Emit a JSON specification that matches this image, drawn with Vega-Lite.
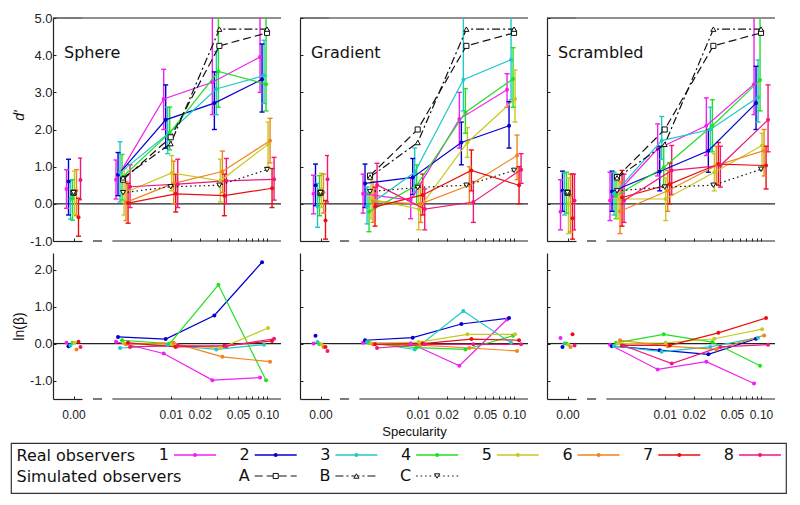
{
"$schema": "https://vega.github.io/schema/vega-lite/v6.json",
"background": "white",
"padding": {"left": 10, "top": 12, "right": 8, "bottom": 5},
"datasets": {
"real": [
{"s":"Sphere","o":1,"sp":0,"d":0.40,"lo":-0.12,"hi":0.92,"b":0.02},
{"s":"Sphere","o":2,"sp":0,"d":0.60,"lo":-0.30,"hi":1.20,"b":-0.07},
{"s":"Sphere","o":3,"sp":0,"d":0.13,"lo":-0.41,"hi":0.62,"b":-0.05},
{"s":"Sphere","o":4,"sp":0,"d":0.15,"lo":-0.44,"hi":0.65,"b":0.02},
{"s":"Sphere","o":5,"sp":0,"d":0.33,"lo":-0.28,"hi":0.88,"b":0.02},
{"s":"Sphere","o":6,"sp":0,"d":0.35,"lo":-0.32,"hi":0.92,"b":-0.16},
{"s":"Sphere","o":7,"sp":0,"d":-0.36,"lo":-0.87,"hi":0.15,"b":0.05},
{"s":"Sphere","o":8,"sp":0,"d":0.64,"lo":0.11,"hi":1.23,"b":-0.09},
{"s":"Sphere","o":1,"sp":0.0032,"d":0.65,"lo":0.13,"hi":1.18,"b":0.05},
{"s":"Sphere","o":2,"sp":0.0032,"d":0.78,"lo":0.22,"hi":1.38,"b":0.18},
{"s":"Sphere","o":3,"sp":0.0032,"d":0.84,"lo":0.05,"hi":1.67,"b":-0.12},
{"s":"Sphere","o":4,"sp":0.0032,"d":0.71,"lo":0.10,"hi":1.33,"b":0.09},
{"s":"Sphere","o":5,"sp":0.0032,"d":0.29,"lo":-0.30,"hi":0.95,"b":0.01},
{"s":"Sphere","o":6,"sp":0.0032,"d":0.04,"lo":-0.45,"hi":0.60,"b":-0.02},
{"s":"Sphere","o":7,"sp":0.0032,"d":0.02,"lo":-0.52,"hi":0.55,"b":0.02},
{"s":"Sphere","o":8,"sp":0.0032,"d":0.46,"lo":-0.10,"hi":1.05,"b":-0.09},
{"s":"Sphere","o":1,"sp":0.01,"d":2.82,"lo":2.00,"hi":3.62,"b":-0.27},
{"s":"Sphere","o":2,"sp":0.01,"d":2.26,"lo":1.50,"hi":3.20,"b":0.12},
{"s":"Sphere","o":3,"sp":0.01,"d":1.88,"lo":1.35,"hi":2.60,"b":-0.04},
{"s":"Sphere","o":4,"sp":0.01,"d":1.91,"lo":1.45,"hi":2.60,"b":0.00},
{"s":"Sphere","o":5,"sp":0.01,"d":0.83,"lo":0.35,"hi":1.30,"b":-0.02},
{"s":"Sphere","o":6,"sp":0.01,"d":0.55,"lo":0.00,"hi":1.15,"b":0.02},
{"s":"Sphere","o":7,"sp":0.01,"d":0.27,"lo":-0.22,"hi":0.80,"b":-0.09},
{"s":"Sphere","o":8,"sp":0.01,"d":0.53,"lo":-0.10,"hi":1.20,"b":-0.06},
{"s":"Sphere","o":1,"sp":0.032,"d":3.27,"lo":2.40,"hi":5.50,"b":-0.99},
{"s":"Sphere","o":2,"sp":0.032,"d":2.71,"lo":2.00,"hi":3.55,"b":0.76},
{"s":"Sphere","o":3,"sp":0.032,"d":3.09,"lo":2.40,"hi":4.10,"b":-0.16},
{"s":"Sphere","o":4,"sp":0.032,"d":3.56,"lo":2.60,"hi":5.50,"b":1.59},
{"s":"Sphere","o":5,"sp":0.032,"d":0.62,"lo":0.05,"hi":1.20,"b":-0.13},
{"s":"Sphere","o":6,"sp":0.032,"d":0.87,"lo":0.30,"hi":1.42,"b":-0.36},
{"s":"Sphere","o":7,"sp":0.032,"d":0.22,"lo":-0.32,"hi":0.80,"b":-0.06},
{"s":"Sphere","o":8,"sp":0.032,"d":0.62,"lo":0.00,"hi":1.22,"b":-0.07},
{"s":"Sphere","o":1,"sp":0.1,"d":3.95,"lo":3.00,"hi":5.50,"b":-0.92},
{"s":"Sphere","o":2,"sp":0.1,"d":3.35,"lo":2.47,"hi":4.30,"b":2.20},
{"s":"Sphere","o":3,"sp":0.1,"d":3.45,"lo":2.70,"hi":4.40,"b":-0.03},
{"s":"Sphere","o":4,"sp":0.1,"d":3.22,"lo":2.50,"hi":5.50,"b":-0.99},
{"s":"Sphere","o":5,"sp":0.1,"d":1.60,"lo":1.00,"hi":2.20,"b":0.42},
{"s":"Sphere","o":6,"sp":0.1,"d":1.70,"lo":1.10,"hi":2.30,"b":-0.49},
{"s":"Sphere","o":7,"sp":0.1,"d":0.42,"lo":-0.10,"hi":0.95,"b":0.07},
{"s":"Sphere","o":8,"sp":0.1,"d":0.66,"lo":0.10,"hi":1.25,"b":0.13},
{"s":"Gradient","o":1,"sp":0,"d":0.27,"lo":-0.27,"hi":0.77,"b":0.00},
{"s":"Gradient","o":2,"sp":0,"d":0.50,"lo":-0.05,"hi":1.07,"b":0.21},
{"s":"Gradient","o":3,"sp":0,"d":-0.07,"lo":-0.63,"hi":0.55,"b":0.04},
{"s":"Gradient","o":4,"sp":0,"d":0.22,"lo":-0.32,"hi":0.76,"b":-0.02},
{"s":"Gradient","o":5,"sp":0,"d":0.40,"lo":-0.10,"hi":0.82,"b":-0.02},
{"s":"Gradient","o":6,"sp":0,"d":0.31,"lo":-0.25,"hi":0.80,"b":-0.09},
{"s":"Gradient","o":7,"sp":0,"d":-0.45,"lo":-0.95,"hi":0.09,"b":-0.09},
{"s":"Gradient","o":8,"sp":0,"d":0.66,"lo":0.05,"hi":1.30,"b":-0.20},
{"s":"Gradient","o":1,"sp":0.0032,"d":0.27,"lo":-0.25,"hi":0.80,"b":0.02},
{"s":"Gradient","o":2,"sp":0.0032,"d":0.55,"lo":-0.10,"hi":1.07,"b":0.09},
{"s":"Gradient","o":3,"sp":0.0032,"d":-0.07,"lo":-0.54,"hi":0.45,"b":0.04},
{"s":"Gradient","o":4,"sp":0.0032,"d":-0.21,"lo":-0.75,"hi":0.30,"b":0.02},
{"s":"Gradient","o":5,"sp":0.0032,"d":0.13,"lo":-0.40,"hi":0.65,"b":0.00},
{"s":"Gradient","o":6,"sp":0.0032,"d":0.06,"lo":-0.50,"hi":0.60,"b":-0.02},
{"s":"Gradient","o":7,"sp":0.0032,"d":-0.08,"lo":-0.60,"hi":0.45,"b":-0.02},
{"s":"Gradient","o":8,"sp":0.0032,"d":0.51,"lo":-0.05,"hi":1.09,"b":-0.12},
{"s":"Gradient","o":1,"sp":0.01,"d":0.10,"lo":-0.40,"hi":0.70,"b":0.00},
{"s":"Gradient","o":2,"sp":0.01,"d":0.71,"lo":0.25,"hi":1.22,"b":0.16},
{"s":"Gradient","o":3,"sp":0.01,"d":0.85,"lo":0.30,"hi":1.50,"b":-0.16},
{"s":"Gradient","o":4,"sp":0.01,"d":0.50,"lo":0.00,"hi":1.05,"b":-0.11},
{"s":"Gradient","o":5,"sp":0.01,"d":-0.14,"lo":-0.70,"hi":0.40,"b":0.04},
{"s":"Gradient","o":6,"sp":0.01,"d":0.00,"lo":-0.50,"hi":0.55,"b":-0.04},
{"s":"Gradient","o":7,"sp":0.01,"d":0.24,"lo":-0.30,"hi":0.80,"b":0.00},
{"s":"Gradient","o":8,"sp":0.01,"d":-0.14,"lo":-0.70,"hi":0.40,"b":-0.02},
{"s":"Gradient","o":1,"sp":0.032,"d":2.28,"lo":1.50,"hi":3.00,"b":-0.60},
{"s":"Gradient","o":2,"sp":0.032,"d":1.65,"lo":1.05,"hi":2.20,"b":0.53},
{"s":"Gradient","o":3,"sp":0.032,"d":3.34,"lo":2.50,"hi":5.50,"b":0.88},
{"s":"Gradient","o":4,"sp":0.032,"d":2.46,"lo":1.90,"hi":3.10,"b":-0.16},
{"s":"Gradient","o":5,"sp":0.032,"d":1.65,"lo":1.25,"hi":2.05,"b":0.25},
{"s":"Gradient","o":6,"sp":0.032,"d":0.50,"lo":0.00,"hi":1.00,"b":-0.12},
{"s":"Gradient","o":7,"sp":0.032,"d":0.90,"lo":0.35,"hi":1.45,"b":0.12},
{"s":"Gradient","o":8,"sp":0.032,"d":0.05,"lo":-0.50,"hi":0.60,"b":-0.02},
{"s":"Gradient","o":1,"sp":0.1,"d":3.07,"lo":2.60,"hi":3.50,"b":0.65},
{"s":"Gradient","o":2,"sp":0.1,"d":2.10,"lo":1.50,"hi":2.75,"b":0.69},
{"s":"Gradient","o":3,"sp":0.1,"d":3.88,"lo":2.80,"hi":5.50,"b":0.02},
{"s":"Gradient","o":4,"sp":0.1,"d":3.36,"lo":2.60,"hi":4.20,"b":0.21},
{"s":"Gradient","o":5,"sp":0.1,"d":2.82,"lo":2.20,"hi":3.60,"b":0.25},
{"s":"Gradient","o":6,"sp":0.1,"d":1.30,"lo":0.65,"hi":1.85,"b":-0.20},
{"s":"Gradient","o":7,"sp":0.1,"d":0.50,"lo":0.00,"hi":1.00,"b":0.09},
{"s":"Gradient","o":8,"sp":0.1,"d":0.92,"lo":0.55,"hi":1.35,"b":-0.02},
{"s":"Scrambled","o":1,"sp":0,"d":-0.21,"lo":-0.70,"hi":0.65,"b":0.15},
{"s":"Scrambled","o":2,"sp":0,"d":0.35,"lo":-0.20,"hi":0.88,"b":-0.09},
{"s":"Scrambled","o":3,"sp":0,"d":0.31,"lo":-0.30,"hi":0.83,"b":0.00},
{"s":"Scrambled","o":4,"sp":0,"d":0.35,"lo":-0.25,"hi":0.85,"b":0.00},
{"s":"Scrambled","o":5,"sp":0,"d":0.00,"lo":-0.80,"hi":0.70,"b":-0.03},
{"s":"Scrambled","o":6,"sp":0,"d":0.22,"lo":-0.76,"hi":0.80,"b":-0.09},
{"s":"Scrambled","o":7,"sp":0,"d":-0.39,"lo":-0.95,"hi":0.80,"b":0.25},
{"s":"Scrambled","o":8,"sp":0,"d":0.09,"lo":-0.70,"hi":0.80,"b":-0.05},
{"s":"Scrambled","o":1,"sp":0.0032,"d":0.09,"lo":-0.45,"hi":0.85,"b":-0.03},
{"s":"Scrambled","o":2,"sp":0.0032,"d":0.33,"lo":-0.20,"hi":0.88,"b":-0.07},
{"s":"Scrambled","o":3,"sp":0.0032,"d":0.27,"lo":-0.30,"hi":0.85,"b":-0.07},
{"s":"Scrambled","o":4,"sp":0.0032,"d":0.22,"lo":-0.40,"hi":0.80,"b":0.02},
{"s":"Scrambled","o":5,"sp":0.0032,"d":0.13,"lo":-0.40,"hi":0.75,"b":0.00},
{"s":"Scrambled","o":6,"sp":0.0032,"d":-0.20,"lo":-0.80,"hi":0.60,"b":0.09},
{"s":"Scrambled","o":7,"sp":0.0032,"d":0.17,"lo":-0.60,"hi":0.90,"b":-0.05},
{"s":"Scrambled","o":8,"sp":0.0032,"d":0.09,"lo":-0.50,"hi":0.80,"b":-0.06},
{"s":"Scrambled","o":1,"sp":0.01,"d":1.48,"lo":0.75,"hi":2.15,"b":-0.70},
{"s":"Scrambled","o":2,"sp":0.01,"d":0.87,"lo":0.35,"hi":1.55,"b":-0.18},
{"s":"Scrambled","o":3,"sp":0.01,"d":1.70,"lo":1.20,"hi":2.35,"b":-0.22},
{"s":"Scrambled","o":4,"sp":0.01,"d":0.98,"lo":0.45,"hi":1.55,"b":0.25},
{"s":"Scrambled","o":5,"sp":0.01,"d":0.13,"lo":-0.45,"hi":0.70,"b":0.02},
{"s":"Scrambled","o":6,"sp":0.01,"d":0.35,"lo":-0.20,"hi":0.90,"b":-0.07},
{"s":"Scrambled","o":7,"sp":0.01,"d":0.53,"lo":0.00,"hi":1.10,"b":-0.05},
{"s":"Scrambled","o":8,"sp":0.01,"d":0.90,"lo":0.25,"hi":1.57,"b":-0.54},
{"s":"Scrambled","o":1,"sp":0.032,"d":2.10,"lo":1.30,"hi":2.85,"b":-0.49},
{"s":"Scrambled","o":2,"sp":0.032,"d":1.43,"lo":0.85,"hi":2.00,"b":-0.29},
{"s":"Scrambled","o":3,"sp":0.032,"d":2.00,"lo":1.45,"hi":2.60,"b":-0.09},
{"s":"Scrambled","o":4,"sp":0.032,"d":2.10,"lo":1.40,"hi":2.80,"b":0.04},
{"s":"Scrambled","o":5,"sp":0.032,"d":0.85,"lo":0.35,"hi":1.35,"b":0.13},
{"s":"Scrambled","o":6,"sp":0.032,"d":1.03,"lo":0.55,"hi":1.55,"b":-0.16},
{"s":"Scrambled","o":7,"sp":0.032,"d":1.07,"lo":0.50,"hi":1.65,"b":0.29},
{"s":"Scrambled","o":8,"sp":0.032,"d":1.03,"lo":0.45,"hi":1.55,"b":-0.09},
{"s":"Scrambled","o":1,"sp":0.1,"d":3.22,"lo":2.40,"hi":5.50,"b":-1.08},
{"s":"Scrambled","o":2,"sp":0.1,"d":2.71,"lo":2.00,"hi":3.70,"b":0.13},
{"s":"Scrambled","o":3,"sp":0.1,"d":2.87,"lo":2.20,"hi":3.87,"b":0.16},
{"s":"Scrambled","o":4,"sp":0.1,"d":3.33,"lo":2.50,"hi":5.50,"b":-0.60},
{"s":"Scrambled","o":5,"sp":0.1,"d":1.57,"lo":0.90,"hi":1.90,"b":0.39},
{"s":"Scrambled","o":6,"sp":0.1,"d":1.43,"lo":0.75,"hi":2.00,"b":0.22},
{"s":"Scrambled","o":7,"sp":0.1,"d":1.03,"lo":0.40,"hi":1.55,"b":0.69},
{"s":"Scrambled","o":8,"sp":0.1,"d":2.26,"lo":1.40,"hi":3.20,"b":-0.03}
],
"sim": [
{"s":"Sphere","sim":"A","sp":0,"d":0.3},{"s":"Sphere","sim":"A","sp":0.0032,"d":0.65},{"s":"Sphere","sim":"A","sp":0.01,"d":1.79},{"s":"Sphere","sim":"A","sp":0.032,"d":4.25},{"s":"Sphere","sim":"A","sp":0.1,"d":4.6},
{"s":"Sphere","sim":"B","sp":0,"d":0.3},{"s":"Sphere","sim":"B","sp":0.0032,"d":0.70},{"s":"Sphere","sim":"B","sp":0.01,"d":1.62},{"s":"Sphere","sim":"B","sp":0.032,"d":4.7},{"s":"Sphere","sim":"B","sp":0.1,"d":4.7},
{"s":"Sphere","sim":"C","sp":0,"d":0.3},{"s":"Sphere","sim":"C","sp":0.0032,"d":0.30},{"s":"Sphere","sim":"C","sp":0.01,"d":0.46},{"s":"Sphere","sim":"C","sp":0.032,"d":0.50},{"s":"Sphere","sim":"C","sp":0.1,"d":0.92},
{"s":"Gradient","sim":"A","sp":0,"d":0.3},{"s":"Gradient","sim":"A","sp":0.0032,"d":0.76},{"s":"Gradient","sim":"A","sp":0.01,"d":2.0},{"s":"Gradient","sim":"A","sp":0.032,"d":4.25},{"s":"Gradient","sim":"A","sp":0.1,"d":4.6},
{"s":"Gradient","sim":"B","sp":0,"d":0.3},{"s":"Gradient","sim":"B","sp":0.0032,"d":0.72},{"s":"Gradient","sim":"B","sp":0.01,"d":1.65},{"s":"Gradient","sim":"B","sp":0.032,"d":4.7},{"s":"Gradient","sim":"B","sp":0.1,"d":4.7},
{"s":"Gradient","sim":"C","sp":0,"d":0.3},{"s":"Gradient","sim":"C","sp":0.0032,"d":0.33},{"s":"Gradient","sim":"C","sp":0.01,"d":0.44},{"s":"Gradient","sim":"C","sp":0.032,"d":0.50},{"s":"Gradient","sim":"C","sp":0.1,"d":0.90},
{"s":"Scrambled","sim":"A","sp":0,"d":0.3},{"s":"Scrambled","sim":"A","sp":0.0032,"d":0.72},{"s":"Scrambled","sim":"A","sp":0.01,"d":2.0},{"s":"Scrambled","sim":"A","sp":0.032,"d":4.25},{"s":"Scrambled","sim":"A","sp":0.1,"d":4.6},
{"s":"Scrambled","sim":"B","sp":0,"d":0.3},{"s":"Scrambled","sim":"B","sp":0.0032,"d":0.70},{"s":"Scrambled","sim":"B","sp":0.01,"d":1.6},{"s":"Scrambled","sim":"B","sp":0.032,"d":4.7},{"s":"Scrambled","sim":"B","sp":0.1,"d":4.7},
{"s":"Scrambled","sim":"C","sp":0,"d":0.3},{"s":"Scrambled","sim":"C","sp":0.0032,"d":0.35},{"s":"Scrambled","sim":"C","sp":0.01,"d":0.45},{"s":"Scrambled","sim":"C","sp":0.032,"d":0.50},{"s":"Scrambled","sim":"C","sp":0.1,"d":0.93}
],
"leg": [
{"k":"1","r":"Real observers","o":1,"t":"1"},
{"k":"2","r":"Real observers","o":2,"t":"2"},
{"k":"3","r":"Real observers","o":3,"t":"3"},
{"k":"4","r":"Real observers","o":4,"t":"4"},
{"k":"5","r":"Real observers","o":5,"t":"5"},
{"k":"6","r":"Real observers","o":6,"t":"6"},
{"k":"7","r":"Real observers","o":7,"t":"7"},
{"k":"8","r":"Real observers","o":8,"t":"8"},
{"k":"2","r":"Simulated observers","sim":"A","t":"A"},
{"k":"3","r":"Simulated observers","sim":"B","t":"B"},
{"k":"4","r":"Simulated observers","sim":"C","t":"C"}
]
},
"vconcat": [
{"hconcat": [
{"width":1,"height":1,"data":{"values":[{}]},"mark":{"type":"point","opacity":0,"size":0},"encoding":{}},
{"vconcat": [
 {"hconcat": [
  {"hconcat": [
   {"width":29,"height":223,"layer":[
    {"data":{"values":[{}]},"mark":{"type":"rule","color":"#222","strokeWidth":1.2},"encoding":{"y":{"datum":0,"type":"quantitative","scale":{"domain":[-1,5],"nice":false,"zero":false},"axis":{"values":[-1,0,1,2,3,4,5],"labelOverlap":false,"labelExpr":"datum.value < 0 ? '-' + format(-datum.value, '.1f') : format(datum.value, '.1f')","title":"d'","titleFontStyle":"italic","titleFontSize":14,"titleY":97,"titlePadding":3}}}},
    {"data":{"values":[{}]},"mark":{"type":"rule","color":"#222","strokeWidth":1.2},"encoding":{"y":{"datum":5,"type":"quantitative","axis":{"values":[-1,0,1,2,3,4,5],"labelOverlap":false,"labelExpr":"datum.value < 0 ? '-' + format(-datum.value, '.1f') : format(datum.value, '.1f')","title":"d'","titleFontStyle":"italic","titleFontSize":14,"titleY":97,"titlePadding":3}}}},
    {"data":{"name":"real"},"transform":[{"filter":"datum.s=='Sphere' && datum.sp==0"},{"calculate":"datum.o-4.5","as":"z"}],
     "encoding":{"x":{"field":"z","type":"quantitative","scale":{"domain":[-10.25,4.25],"nice":false,"zero":false},"axis":{"values":[0],"labels":false,"title":null}},"color":{"field":"o","type":"nominal","scale":{"domain":[1,2,3,4,5,6,7,8],"range":["#f020f0","#0000d0","#20c8c8","#22e022","#c8c820","#f0841e","#e81010","#f0187c"]},"legend":null}},
     "layer":[
      {"mark":{"type":"rule","clip":true,"strokeWidth":1.4},"encoding":{"y":{"field":"lo","type":"quantitative","axis":{"values":[-1,0,1,2,3,4,5],"labelOverlap":false,"labelExpr":"datum.value < 0 ? '-' + format(-datum.value, '.1f') : format(datum.value, '.1f')","title":"d'","titleFontStyle":"italic","titleFontSize":14,"titleY":97,"titlePadding":3}},"y2":{"field":"hi"}}},
      {"mark":{"type":"tick","orient":"horizontal","size":5,"thickness":1.4,"clip":true,"opacity":1},"encoding":{"y":{"field":"lo","type":"quantitative","axis":{"values":[-1,0,1,2,3,4,5],"labelOverlap":false,"labelExpr":"datum.value < 0 ? '-' + format(-datum.value, '.1f') : format(datum.value, '.1f')","title":"d'","titleFontStyle":"italic","titleFontSize":14,"titleY":97,"titlePadding":3}}}},
      {"mark":{"type":"tick","orient":"horizontal","size":5,"thickness":1.4,"clip":true,"opacity":1},"encoding":{"y":{"field":"hi","type":"quantitative","axis":{"values":[-1,0,1,2,3,4,5],"labelOverlap":false,"labelExpr":"datum.value < 0 ? '-' + format(-datum.value, '.1f') : format(datum.value, '.1f')","title":"d'","titleFontStyle":"italic","titleFontSize":14,"titleY":97,"titlePadding":3}}}},
      {"mark":{"type":"point","filled":true,"size":16,"opacity":1},"encoding":{"y":{"field":"d","type":"quantitative","axis":{"values":[-1,0,1,2,3,4,5],"labelOverlap":false,"labelExpr":"datum.value < 0 ? '-' + format(-datum.value, '.1f') : format(datum.value, '.1f')","title":"d'","titleFontStyle":"italic","titleFontSize":14,"titleY":97,"titlePadding":3}}}}
     ]},
    {"data":{"name":"sim"},"transform":[{"filter":"datum.s=='Sphere' && datum.sp==0"}],"mark":{"type":"point","filled":false,"fill":"white","color":"#111","size":26,"opacity":1,"strokeWidth":1},"encoding":{"x":{"datum":0,"type":"quantitative"},"y":{"field":"d","type":"quantitative","axis":{"values":[-1,0,1,2,3,4,5],"labelOverlap":false,"labelExpr":"datum.value < 0 ? '-' + format(-datum.value, '.1f') : format(datum.value, '.1f')","title":"d'","titleFontStyle":"italic","titleFontSize":14,"titleY":97,"titlePadding":3}},"shape":{"field":"sim","type":"nominal","scale":{"domain":["A","B","C"],"range":["square","triangle-up","triangle-down"]},"legend":null}}},
    {"data":{"values":[{}]},"mark":{"type":"text","text":"Sphere","align":"left","baseline":"middle","font":"DejaVu Sans","fontSize":16,"color":"#111"},"encoding":{"x":{"datum":-4.75,"type":"quantitative"},"y":{"datum":4.07,"type":"quantitative","axis":{"values":[-1,0,1,2,3,4,5],"labelOverlap":false,"labelExpr":"datum.value < 0 ? '-' + format(-datum.value, '.1f') : format(datum.value, '.1f')","title":"d'","titleFontStyle":"italic","titleFontSize":14,"titleY":97,"titlePadding":3}}}}
   ]},
   {"width":199,"height":223,"layer":[
    {"data":{"values":[{}]},"mark":{"type":"rule","color":"#222","strokeWidth":1.2},"encoding":{"y":{"datum":0,"type":"quantitative","scale":{"domain":[-1,5],"nice":false,"zero":false},"axis":null}}},
    {"data":{"values":[{}]},"mark":{"type":"rule","color":"#222","strokeWidth":1.2},"encoding":{"y":{"datum":5,"type":"quantitative","axis":null}}},
    {"data":{"values":[{}]},"mark":{"type":"rule","color":"#222","strokeWidth":1.2},"encoding":{"x":{"datum":0.00248,"type":"quantitative"},"x2":{"datum":0.1396},"y":{"datum":-1,"type":"quantitative","axis":null}}},
    {"data":{"values":[{}]},"mark":{"type":"rule","color":"#222","strokeWidth":1.2},"encoding":{"x":{"datum":0.00156,"type":"quantitative"},"x2":{"datum":0.00194},"y":{"datum":-1,"type":"quantitative","axis":null}}},
    {"data":{"name":"real"},"transform":[{"filter":"datum.s=='Sphere' && datum.sp>0"},{"calculate":"datum.sp*pow(10,(datum.o-4.5)*0.0208)","as":"xj"}],
     "encoding":{"x":{"field":"xj","type":"quantitative","scale":{"type":"log","domain":[0.0012,0.1396],"nice":false},"axis":{"values":[0.01,0.02,0.03,0.04,0.05,0.06,0.07,0.08,0.09,0.1],"labels":false,"domain":false,"title":null}},"color":{"field":"o","type":"nominal","legend":null}},
     "layer":[
      {"mark":{"type":"rule","clip":true,"strokeWidth":1.4},"encoding":{"y":{"field":"lo","type":"quantitative","axis":null},"y2":{"field":"hi"}}},
      {"mark":{"type":"tick","orient":"horizontal","size":5,"thickness":1.4,"clip":true,"opacity":1},"encoding":{"y":{"field":"lo","type":"quantitative","axis":null}}},
      {"mark":{"type":"tick","orient":"horizontal","size":5,"thickness":1.4,"clip":true,"opacity":1},"encoding":{"y":{"field":"hi","type":"quantitative","axis":null}}},
      {"mark":{"type":"line","strokeWidth":1.2},"encoding":{"y":{"field":"d","type":"quantitative","axis":null}}},
      {"mark":{"type":"point","filled":true,"size":16,"opacity":1},"encoding":{"y":{"field":"d","type":"quantitative","axis":null}}}
     ]},
    {"data":{"name":"sim"},"transform":[{"filter":"datum.s=='Sphere' && datum.sp>0"}],
     "encoding":{"x":{"field":"sp","type":"quantitative"},"y":{"field":"d","type":"quantitative","axis":null}},
     "layer":[
      {"mark":{"type":"line","color":"#111","strokeWidth":1.2},"encoding":{"strokeDash":{"field":"sim","type":"nominal","scale":{"domain":["A","B","C"],"range":[[8,4],[8,3,2,3],[1.5,3]]},"legend":null}}},
      {"mark":{"type":"point","filled":false,"fill":"white","color":"#111","size":26,"opacity":1,"strokeWidth":1},"encoding":{"shape":{"field":"sim","type":"nominal","legend":null}}}
     ]}
   ]}
  ],"spacing":0,"bounds":"flush","resolve":{"scale":{"x":"independent","y":"independent"}}},
  {"hconcat": [
   {"width":29,"height":223,"layer":[
    {"data":{"values":[{}]},"mark":{"type":"rule","color":"#222","strokeWidth":1.2},"encoding":{"y":{"datum":0,"type":"quantitative","scale":{"domain":[-1,5],"nice":false,"zero":false},"axis":{"values":[-1,0,1,2,3,4,5],"labels":false,"title":null}}}},
    {"data":{"values":[{}]},"mark":{"type":"rule","color":"#222","strokeWidth":1.2},"encoding":{"y":{"datum":5,"type":"quantitative","axis":{"values":[-1,0,1,2,3,4,5],"labels":false,"title":null}}}},
    {"data":{"name":"real"},"transform":[{"filter":"datum.s=='Gradient' && datum.sp==0"},{"calculate":"datum.o-4.5","as":"z"}],
     "encoding":{"x":{"field":"z","type":"quantitative","scale":{"domain":[-10.25,4.25],"nice":false,"zero":false},"axis":{"values":[0],"labels":false,"title":null}},"color":{"field":"o","type":"nominal","legend":null}},
     "layer":[
      {"mark":{"type":"rule","clip":true,"strokeWidth":1.4},"encoding":{"y":{"field":"lo","type":"quantitative","axis":{"values":[-1,0,1,2,3,4,5],"labels":false,"title":null}},"y2":{"field":"hi"}}},
      {"mark":{"type":"tick","orient":"horizontal","size":5,"thickness":1.4,"clip":true,"opacity":1},"encoding":{"y":{"field":"lo","type":"quantitative","axis":{"values":[-1,0,1,2,3,4,5],"labels":false,"title":null}}}},
      {"mark":{"type":"tick","orient":"horizontal","size":5,"thickness":1.4,"clip":true,"opacity":1},"encoding":{"y":{"field":"hi","type":"quantitative","axis":{"values":[-1,0,1,2,3,4,5],"labels":false,"title":null}}}},
      {"mark":{"type":"point","filled":true,"size":16,"opacity":1},"encoding":{"y":{"field":"d","type":"quantitative","axis":{"values":[-1,0,1,2,3,4,5],"labels":false,"title":null}}}}
     ]},
    {"data":{"name":"sim"},"transform":[{"filter":"datum.s=='Gradient' && datum.sp==0"}],"mark":{"type":"point","filled":false,"fill":"white","color":"#111","size":26,"opacity":1,"strokeWidth":1},"encoding":{"x":{"datum":0,"type":"quantitative"},"y":{"field":"d","type":"quantitative","axis":{"values":[-1,0,1,2,3,4,5],"labels":false,"title":null}},"shape":{"field":"sim","type":"nominal","legend":null}}},
    {"data":{"values":[{}]},"mark":{"type":"text","text":"Gradient","align":"left","baseline":"middle","font":"DejaVu Sans","fontSize":16,"color":"#111"},"encoding":{"x":{"datum":-4.75,"type":"quantitative"},"y":{"datum":4.07,"type":"quantitative","axis":{"values":[-1,0,1,2,3,4,5],"labels":false,"title":null}}}}
   ]},
   {"width":199,"height":223,"layer":[
    {"data":{"values":[{}]},"mark":{"type":"rule","color":"#222","strokeWidth":1.2},"encoding":{"y":{"datum":0,"type":"quantitative","scale":{"domain":[-1,5],"nice":false,"zero":false},"axis":null}}},
    {"data":{"values":[{}]},"mark":{"type":"rule","color":"#222","strokeWidth":1.2},"encoding":{"y":{"datum":5,"type":"quantitative","axis":null}}},
    {"data":{"values":[{}]},"mark":{"type":"rule","color":"#222","strokeWidth":1.2},"encoding":{"x":{"datum":0.00248,"type":"quantitative"},"x2":{"datum":0.1396},"y":{"datum":-1,"type":"quantitative","axis":null}}},
    {"data":{"values":[{}]},"mark":{"type":"rule","color":"#222","strokeWidth":1.2},"encoding":{"x":{"datum":0.00156,"type":"quantitative"},"x2":{"datum":0.00194},"y":{"datum":-1,"type":"quantitative","axis":null}}},
    {"data":{"name":"real"},"transform":[{"filter":"datum.s=='Gradient' && datum.sp>0"},{"calculate":"datum.sp*pow(10,(datum.o-4.5)*0.0208)","as":"xj"}],
     "encoding":{"x":{"field":"xj","type":"quantitative","scale":{"type":"log","domain":[0.0012,0.1396],"nice":false},"axis":{"values":[0.01,0.02,0.03,0.04,0.05,0.06,0.07,0.08,0.09,0.1],"labels":false,"domain":false,"title":null}},"color":{"field":"o","type":"nominal","legend":null}},
     "layer":[
      {"mark":{"type":"rule","clip":true,"strokeWidth":1.4},"encoding":{"y":{"field":"lo","type":"quantitative","axis":null},"y2":{"field":"hi"}}},
      {"mark":{"type":"tick","orient":"horizontal","size":5,"thickness":1.4,"clip":true,"opacity":1},"encoding":{"y":{"field":"lo","type":"quantitative","axis":null}}},
      {"mark":{"type":"tick","orient":"horizontal","size":5,"thickness":1.4,"clip":true,"opacity":1},"encoding":{"y":{"field":"hi","type":"quantitative","axis":null}}},
      {"mark":{"type":"line","strokeWidth":1.2},"encoding":{"y":{"field":"d","type":"quantitative","axis":null}}},
      {"mark":{"type":"point","filled":true,"size":16,"opacity":1},"encoding":{"y":{"field":"d","type":"quantitative","axis":null}}}
     ]},
    {"data":{"name":"sim"},"transform":[{"filter":"datum.s=='Gradient' && datum.sp>0"}],
     "encoding":{"x":{"field":"sp","type":"quantitative"},"y":{"field":"d","type":"quantitative","axis":null}},
     "layer":[
      {"mark":{"type":"line","color":"#111","strokeWidth":1.2},"encoding":{"strokeDash":{"field":"sim","type":"nominal","legend":null}}},
      {"mark":{"type":"point","filled":false,"fill":"white","color":"#111","size":26,"opacity":1,"strokeWidth":1},"encoding":{"shape":{"field":"sim","type":"nominal","legend":null}}}
     ]}
   ]}
  ],"spacing":0,"bounds":"flush","resolve":{"scale":{"x":"independent","y":"independent"}}},
  {"hconcat": [
   {"width":29,"height":223,"layer":[
    {"data":{"values":[{}]},"mark":{"type":"rule","color":"#222","strokeWidth":1.2},"encoding":{"y":{"datum":0,"type":"quantitative","scale":{"domain":[-1,5],"nice":false,"zero":false},"axis":{"values":[-1,0,1,2,3,4,5],"labels":false,"title":null}}}},
    {"data":{"values":[{}]},"mark":{"type":"rule","color":"#222","strokeWidth":1.2},"encoding":{"y":{"datum":5,"type":"quantitative","axis":{"values":[-1,0,1,2,3,4,5],"labels":false,"title":null}}}},
    {"data":{"name":"real"},"transform":[{"filter":"datum.s=='Scrambled' && datum.sp==0"},{"calculate":"datum.o-4.5","as":"z"}],
     "encoding":{"x":{"field":"z","type":"quantitative","scale":{"domain":[-10.25,4.25],"nice":false,"zero":false},"axis":{"values":[0],"labels":false,"title":null}},"color":{"field":"o","type":"nominal","legend":null}},
     "layer":[
      {"mark":{"type":"rule","clip":true,"strokeWidth":1.4},"encoding":{"y":{"field":"lo","type":"quantitative","axis":{"values":[-1,0,1,2,3,4,5],"labels":false,"title":null}},"y2":{"field":"hi"}}},
      {"mark":{"type":"tick","orient":"horizontal","size":5,"thickness":1.4,"clip":true,"opacity":1},"encoding":{"y":{"field":"lo","type":"quantitative","axis":{"values":[-1,0,1,2,3,4,5],"labels":false,"title":null}}}},
      {"mark":{"type":"tick","orient":"horizontal","size":5,"thickness":1.4,"clip":true,"opacity":1},"encoding":{"y":{"field":"hi","type":"quantitative","axis":{"values":[-1,0,1,2,3,4,5],"labels":false,"title":null}}}},
      {"mark":{"type":"point","filled":true,"size":16,"opacity":1},"encoding":{"y":{"field":"d","type":"quantitative","axis":{"values":[-1,0,1,2,3,4,5],"labels":false,"title":null}}}}
     ]},
    {"data":{"name":"sim"},"transform":[{"filter":"datum.s=='Scrambled' && datum.sp==0"}],"mark":{"type":"point","filled":false,"fill":"white","color":"#111","size":26,"opacity":1,"strokeWidth":1},"encoding":{"x":{"datum":0,"type":"quantitative"},"y":{"field":"d","type":"quantitative","axis":{"values":[-1,0,1,2,3,4,5],"labels":false,"title":null}},"shape":{"field":"sim","type":"nominal","legend":null}}},
    {"data":{"values":[{}]},"mark":{"type":"text","text":"Scrambled","align":"left","baseline":"middle","font":"DejaVu Sans","fontSize":16,"color":"#111"},"encoding":{"x":{"datum":-4.75,"type":"quantitative"},"y":{"datum":4.07,"type":"quantitative","axis":{"values":[-1,0,1,2,3,4,5],"labels":false,"title":null}}}}
   ]},
   {"width":199,"height":223,"layer":[
    {"data":{"values":[{}]},"mark":{"type":"rule","color":"#222","strokeWidth":1.2},"encoding":{"y":{"datum":0,"type":"quantitative","scale":{"domain":[-1,5],"nice":false,"zero":false},"axis":null}}},
    {"data":{"values":[{}]},"mark":{"type":"rule","color":"#222","strokeWidth":1.2},"encoding":{"y":{"datum":5,"type":"quantitative","axis":null}}},
    {"data":{"values":[{}]},"mark":{"type":"rule","color":"#222","strokeWidth":1.2},"encoding":{"x":{"datum":0.00248,"type":"quantitative"},"x2":{"datum":0.1396},"y":{"datum":-1,"type":"quantitative","axis":null}}},
    {"data":{"values":[{}]},"mark":{"type":"rule","color":"#222","strokeWidth":1.2},"encoding":{"x":{"datum":0.00156,"type":"quantitative"},"x2":{"datum":0.00194},"y":{"datum":-1,"type":"quantitative","axis":null}}},
    {"data":{"name":"real"},"transform":[{"filter":"datum.s=='Scrambled' && datum.sp>0"},{"calculate":"datum.sp*pow(10,(datum.o-4.5)*0.0208)","as":"xj"}],
     "encoding":{"x":{"field":"xj","type":"quantitative","scale":{"type":"log","domain":[0.0012,0.1396],"nice":false},"axis":{"values":[0.01,0.02,0.03,0.04,0.05,0.06,0.07,0.08,0.09,0.1],"labels":false,"domain":false,"title":null}},"color":{"field":"o","type":"nominal","legend":null}},
     "layer":[
      {"mark":{"type":"rule","clip":true,"strokeWidth":1.4},"encoding":{"y":{"field":"lo","type":"quantitative","axis":null},"y2":{"field":"hi"}}},
      {"mark":{"type":"tick","orient":"horizontal","size":5,"thickness":1.4,"clip":true,"opacity":1},"encoding":{"y":{"field":"lo","type":"quantitative","axis":null}}},
      {"mark":{"type":"tick","orient":"horizontal","size":5,"thickness":1.4,"clip":true,"opacity":1},"encoding":{"y":{"field":"hi","type":"quantitative","axis":null}}},
      {"mark":{"type":"line","strokeWidth":1.2},"encoding":{"y":{"field":"d","type":"quantitative","axis":null}}},
      {"mark":{"type":"point","filled":true,"size":16,"opacity":1},"encoding":{"y":{"field":"d","type":"quantitative","axis":null}}}
     ]},
    {"data":{"name":"sim"},"transform":[{"filter":"datum.s=='Scrambled' && datum.sp>0"}],
     "encoding":{"x":{"field":"sp","type":"quantitative"},"y":{"field":"d","type":"quantitative","axis":null}},
     "layer":[
      {"mark":{"type":"line","color":"#111","strokeWidth":1.2},"encoding":{"strokeDash":{"field":"sim","type":"nominal","legend":null}}},
      {"mark":{"type":"point","filled":false,"fill":"white","color":"#111","size":26,"opacity":1,"strokeWidth":1},"encoding":{"shape":{"field":"sim","type":"nominal","legend":null}}}
     ]}
   ]}
  ],"spacing":0,"bounds":"flush","resolve":{"scale":{"x":"independent","y":"independent"}}}
 ],"spacing":17,"bounds":"full","resolve":{"scale":{"x":"independent","y":"independent"}}},
 {"hconcat": [
  {"hconcat": [
   {"width":29,"height":146,"layer":[
    {"data":{"values":[{}]},"mark":{"type":"rule","color":"#222","strokeWidth":1.2},"encoding":{"y":{"datum":0,"type":"quantitative","scale":{"domain":[-1.5,2.45],"nice":false,"zero":false},"axis":{"values":[-1,0,1,2],"labelOverlap":false,"labelExpr":"datum.value < 0 ? '-' + format(-datum.value, '.1f') : format(datum.value, '.1f')","title":"ln(β)","titleFontSize":14,"titlePadding":3}}}},
    {"data":{"name":"real"},"transform":[{"filter":"datum.s=='Sphere' && datum.sp==0"},{"calculate":"datum.o-4.5","as":"z"}],"mark":{"type":"point","filled":true,"size":16,"opacity":1},
     "encoding":{"x":{"field":"z","type":"quantitative","scale":{"domain":[-10.25,4.25],"nice":false,"zero":false},"axis":{"values":[0],"labelExpr":"'0.00'","title":null}},"y":{"field":"b","type":"quantitative","axis":{"values":[-1,0,1,2],"labelOverlap":false,"labelExpr":"datum.value < 0 ? '-' + format(-datum.value, '.1f') : format(datum.value, '.1f')","title":"ln(β)","titleFontSize":14,"titlePadding":3}},"color":{"field":"o","type":"nominal","legend":null}}}
   ]},
   {"width":199,"height":146,"layer":[
    {"data":{"values":[{}]},"mark":{"type":"rule","color":"#222","strokeWidth":1.2},"encoding":{"y":{"datum":0,"type":"quantitative","scale":{"domain":[-1.5,2.45],"nice":false,"zero":false},"axis":null}}},
    {"data":{"values":[{}]},"mark":{"type":"rule","color":"#222","strokeWidth":1.2},"encoding":{"x":{"datum":0.00248,"type":"quantitative"},"x2":{"datum":0.1396},"y":{"datum":-1.5,"type":"quantitative","axis":null}}},
    {"data":{"values":[{}]},"mark":{"type":"rule","color":"#222","strokeWidth":1.2},"encoding":{"x":{"datum":0.00156,"type":"quantitative"},"x2":{"datum":0.00194},"y":{"datum":-1.5,"type":"quantitative","axis":null}}},
    {"data":{"name":"real"},"transform":[{"filter":"datum.s=='Sphere' && datum.sp>0"},{"calculate":"datum.sp*pow(10,(datum.o-4.5)*0.0208)","as":"xj"}],
     "encoding":{"x":{"field":"xj","type":"quantitative","scale":{"type":"log","domain":[0.0012,0.1396],"nice":false},"axis":{"values":[0.01,0.02,0.03,0.04,0.05,0.06,0.07,0.08,0.09,0.1],"labelExpr":"(datum.value==0.01||datum.value==0.02||datum.value==0.05||datum.value==0.1) ? format(datum.value,'.2f') : ''","domain":false,"title":null}},"y":{"field":"b","type":"quantitative","axis":null},"color":{"field":"o","type":"nominal","legend":null}},
     "layer":[
      {"mark":{"type":"line","strokeWidth":1.2}},
      {"mark":{"type":"point","filled":true,"size":16,"opacity":1}}
     ]}
   ]}
  ],"spacing":0,"bounds":"flush","resolve":{"scale":{"x":"independent","y":"independent"}}},
  {"hconcat": [
   {"width":29,"height":146,"layer":[
    {"data":{"values":[{}]},"mark":{"type":"rule","color":"#222","strokeWidth":1.2},"encoding":{"y":{"datum":0,"type":"quantitative","scale":{"domain":[-1.5,2.45],"nice":false,"zero":false},"axis":{"values":[-1,0,1,2],"labels":false,"title":null}}}},
    {"data":{"name":"real"},"transform":[{"filter":"datum.s=='Gradient' && datum.sp==0"},{"calculate":"datum.o-4.5","as":"z"}],"mark":{"type":"point","filled":true,"size":16,"opacity":1},
     "encoding":{"x":{"field":"z","type":"quantitative","scale":{"domain":[-10.25,4.25],"nice":false,"zero":false},"axis":{"values":[0],"labelExpr":"'0.00'","title":null}},"y":{"field":"b","type":"quantitative","axis":{"values":[-1,0,1,2],"labels":false,"title":null}},"color":{"field":"o","type":"nominal","legend":null}}}
   ]},
   {"width":199,"height":146,"layer":[
    {"data":{"values":[{}]},"mark":{"type":"rule","color":"#222","strokeWidth":1.2},"encoding":{"y":{"datum":0,"type":"quantitative","scale":{"domain":[-1.5,2.45],"nice":false,"zero":false},"axis":null}}},
    {"data":{"values":[{}]},"mark":{"type":"rule","color":"#222","strokeWidth":1.2},"encoding":{"x":{"datum":0.00248,"type":"quantitative"},"x2":{"datum":0.1396},"y":{"datum":-1.5,"type":"quantitative","axis":null}}},
    {"data":{"values":[{}]},"mark":{"type":"rule","color":"#222","strokeWidth":1.2},"encoding":{"x":{"datum":0.00156,"type":"quantitative"},"x2":{"datum":0.00194},"y":{"datum":-1.5,"type":"quantitative","axis":null}}},
    {"data":{"name":"real"},"transform":[{"filter":"datum.s=='Gradient' && datum.sp>0"},{"calculate":"datum.sp*pow(10,(datum.o-4.5)*0.0208)","as":"xj"}],
     "encoding":{"x":{"field":"xj","type":"quantitative","scale":{"type":"log","domain":[0.0012,0.1396],"nice":false},"axis":{"values":[0.01,0.02,0.03,0.04,0.05,0.06,0.07,0.08,0.09,0.1],"labelExpr":"(datum.value==0.01||datum.value==0.02||datum.value==0.05||datum.value==0.1) ? format(datum.value,'.2f') : ''","domain":false,"title":"Specularity","titleX":85,"titlePadding":5,"titleFontSize":13}},"y":{"field":"b","type":"quantitative","axis":null},"color":{"field":"o","type":"nominal","legend":null}},
     "layer":[
      {"mark":{"type":"line","strokeWidth":1.2}},
      {"mark":{"type":"point","filled":true,"size":16,"opacity":1}}
     ]}
   ]}
  ],"spacing":0,"bounds":"flush","resolve":{"scale":{"x":"independent","y":"independent"}}},
  {"hconcat": [
   {"width":29,"height":146,"layer":[
    {"data":{"values":[{}]},"mark":{"type":"rule","color":"#222","strokeWidth":1.2},"encoding":{"y":{"datum":0,"type":"quantitative","scale":{"domain":[-1.5,2.45],"nice":false,"zero":false},"axis":{"values":[-1,0,1,2],"labels":false,"title":null}}}},
    {"data":{"name":"real"},"transform":[{"filter":"datum.s=='Scrambled' && datum.sp==0"},{"calculate":"datum.o-4.5","as":"z"}],"mark":{"type":"point","filled":true,"size":16,"opacity":1},
     "encoding":{"x":{"field":"z","type":"quantitative","scale":{"domain":[-10.25,4.25],"nice":false,"zero":false},"axis":{"values":[0],"labelExpr":"'0.00'","title":null}},"y":{"field":"b","type":"quantitative","axis":{"values":[-1,0,1,2],"labels":false,"title":null}},"color":{"field":"o","type":"nominal","legend":null}}}
   ]},
   {"width":199,"height":146,"layer":[
    {"data":{"values":[{}]},"mark":{"type":"rule","color":"#222","strokeWidth":1.2},"encoding":{"y":{"datum":0,"type":"quantitative","scale":{"domain":[-1.5,2.45],"nice":false,"zero":false},"axis":null}}},
    {"data":{"values":[{}]},"mark":{"type":"rule","color":"#222","strokeWidth":1.2},"encoding":{"x":{"datum":0.00248,"type":"quantitative"},"x2":{"datum":0.1396},"y":{"datum":-1.5,"type":"quantitative","axis":null}}},
    {"data":{"values":[{}]},"mark":{"type":"rule","color":"#222","strokeWidth":1.2},"encoding":{"x":{"datum":0.00156,"type":"quantitative"},"x2":{"datum":0.00194},"y":{"datum":-1.5,"type":"quantitative","axis":null}}},
    {"data":{"name":"real"},"transform":[{"filter":"datum.s=='Scrambled' && datum.sp>0"},{"calculate":"datum.sp*pow(10,(datum.o-4.5)*0.0208)","as":"xj"}],
     "encoding":{"x":{"field":"xj","type":"quantitative","scale":{"type":"log","domain":[0.0012,0.1396],"nice":false},"axis":{"values":[0.01,0.02,0.03,0.04,0.05,0.06,0.07,0.08,0.09,0.1],"labelExpr":"(datum.value==0.01||datum.value==0.02||datum.value==0.05||datum.value==0.1) ? format(datum.value,'.2f') : ''","domain":false,"title":null}},"y":{"field":"b","type":"quantitative","axis":null},"color":{"field":"o","type":"nominal","legend":null}},
     "layer":[
      {"mark":{"type":"line","strokeWidth":1.2}},
      {"mark":{"type":"point","filled":true,"size":16,"opacity":1}}
     ]}
   ]}
  ],"spacing":0,"bounds":"flush","resolve":{"scale":{"x":"independent","y":"independent"}}}
 ],"spacing":17,"bounds":"full","resolve":{"scale":{"x":"independent","y":"independent"}}}
],"spacing":5,"bounds":"full","resolve":{"scale":{"x":"independent","y":"independent"}}}
],"spacing":0,"bounds":"full","resolve":{"scale":{"x":"independent","y":"independent"}}},
{"width":775,"height":50,"view":{"stroke":"#333","strokeWidth":1.2},
 "data":{"name":"leg"},
 "encoding":{"x":{"field":"k","type":"nominal","scale":{"type":"point","domain":["1","2","3","4","5","6","7","8"],"range":[184,749],"padding":0},"axis":null},
             "y":{"field":"r","type":"nominal","scale":{"type":"point","domain":["Real observers","Simulated observers"],"range":[12,33],"padding":0},"axis":{"orient":"left","offset":-5,"labelAlign":"left","labelPadding":0,"ticks":false,"domain":false,"title":null,"labelFont":"DejaVu Sans","labelFontSize":16,"labelColor":"#111","labelBaseline":"middle"}}},
 "layer":[
  {"transform":[{"filter":"isValid(datum.o)"}],"mark":{"type":"rule","xOffset":-21,"x2Offset":21,"strokeWidth":1.4},"encoding":{"x2":{"field":"k"},"color":{"field":"o","type":"nominal","legend":null}}},
  {"transform":[{"filter":"isValid(datum.o)"}],"mark":{"type":"point","filled":true,"size":16,"opacity":1},"encoding":{"color":{"field":"o","type":"nominal","legend":null}}},
  {"transform":[{"filter":"isValid(datum.sim)"}],"mark":{"type":"rule","xOffset":-21,"x2Offset":21,"strokeWidth":1.2,"color":"#111"},"encoding":{"x2":{"field":"k"},"strokeDash":{"field":"sim","type":"nominal","legend":null}}},
  {"transform":[{"filter":"isValid(datum.sim)"}],"mark":{"type":"point","filled":false,"fill":"white","color":"#111","size":26,"opacity":1,"strokeWidth":1},"encoding":{"shape":{"field":"sim","type":"nominal","legend":null}}},
  {"mark":{"type":"text","align":"right","baseline":"middle","dx":-26,"font":"DejaVu Sans","fontSize":16,"color":"#111"},"encoding":{"text":{"field":"t"}}}
 ]}
],
"spacing": 3,
"bounds": "full",
"config": {
 "view": {"stroke": null},
 "axis": {"grid": false, "domainColor": "#222", "tickColor": "#222", "labelColor": "#222", "titleColor": "#111", "labelFont": "Liberation Sans", "titleFont": "Liberation Sans", "titleFontWeight": "normal", "tickSize": -3, "labelFontSize": 12, "labelFlush": false, "labelOverlap": false, "domainWidth": 1.2, "tickWidth": 1},
 "axisY": {"labelFontSize": 13, "labelPadding": 4},
 "axisX": {"labelPadding": 13.5}
}
}
